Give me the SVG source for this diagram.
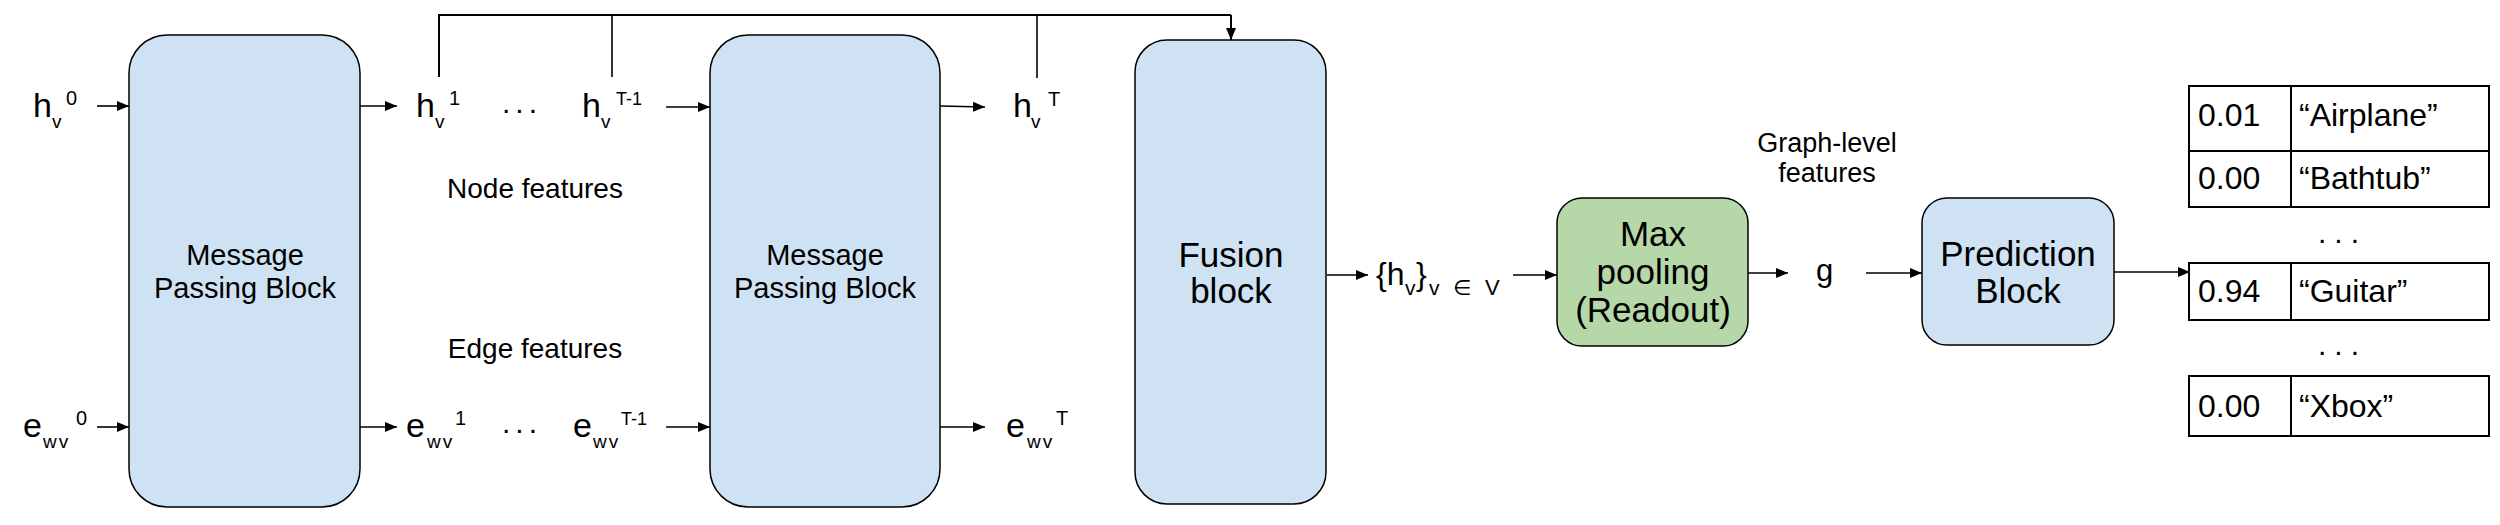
<svg xmlns="http://www.w3.org/2000/svg" width="2500" height="525" viewBox="0 0 2500 525">
<style>
text{font-family:"Liberation Sans","DejaVu Sans",sans-serif;fill:#000}
.blk{fill:#cfe2f3;stroke:#000;stroke-width:1.5}
.grn{fill:#b6d7a8;stroke:#000;stroke-width:1.5}
.cell{fill:#fff;stroke:#000;stroke-width:2}
.ln{fill:none;stroke:#000;stroke-width:1.6}
.ar{fill:none;stroke:#000;stroke-width:1.6;marker-end:url(#ah)}
.main{font-size:34px}
.sub{font-size:19px}
.sup{font-size:20px}
.lbl{font-size:28px;text-anchor:middle}
.mp{font-size:29px;text-anchor:middle}
.bx{font-size:35px;text-anchor:middle}
.tb{font-size:32px}
.tq{font-size:32px}
</style>
<defs>
<marker id="ah" markerUnits="userSpaceOnUse" markerWidth="12" markerHeight="10" refX="12" refY="5" orient="auto">
<path d="M0,0 L12,5 L0,10 z" fill="#000"/>
</marker>
</defs>
<rect width="2500" height="525" fill="#fff"/>

<g id="connectors">
<path class="ln" d="M439,77 V15 H1231" style="stroke-width:2"/>
<path class="ar" d="M1231,15 V40" style="stroke-width:2"/>
<path class="ln" d="M612,15 V77"/>
<path class="ln" d="M1037,15 V78"/>
<path class="ar" d="M97,106 H129"/>
<path class="ar" d="M97,427 H129"/>
<path class="ar" d="M360,106 H397"/>
<path class="ar" d="M360,427 H397"/>
<path class="ar" d="M666,107 H710"/>
<path class="ar" d="M666,427 H710"/>
<path class="ar" d="M940,106 L985,107"/>
<path class="ar" d="M940,427 H985"/>
<path class="ar" d="M1327,275 H1368"/>
<path class="ar" d="M1513,275 H1557"/>
<path class="ar" d="M1748,273 H1788"/>
<path class="ar" d="M1866,273 H1922"/>
<path class="ar" d="M2114,272 H2190"/>
</g>

<g id="mpb1">
<rect class="blk" x="129" y="35" width="231" height="472" rx="38" ry="38"/>
<text class="mp" x="245" y="265">Message</text>
<text class="mp" x="245" y="298">Passing Block</text>
</g>

<g id="mpb2">
<rect class="blk" x="710" y="35" width="230" height="472" rx="38" ry="38"/>
<text class="mp" x="825" y="265">Message</text>
<text class="mp" x="825" y="298">Passing Block</text>
</g>

<g id="fusion">
<rect class="blk" x="1135" y="40" width="191" height="464" rx="32" ry="32"/>
<text class="bx" x="1231" y="267">Fusion</text>
<text class="bx" x="1231" y="303">block</text>
</g>

<g id="maxpool">
<rect class="grn" x="1557" y="198" width="191" height="148" rx="25" ry="25"/>
<text class="bx" x="1653" y="246">Max</text>
<text class="bx" x="1653" y="284">pooling</text>
<text class="bx" x="1653" y="322">(Readout)</text>
</g>

<g id="prediction">
<rect class="blk" x="1922" y="198" width="192" height="147" rx="25" ry="25"/>
<text class="bx" x="2018" y="266">Prediction</text>
<text class="bx" x="2018" y="303">Block</text>
</g>

<g id="labels">
<text class="main" x="33" y="117">h</text><text class="sub" x="52" y="128">v</text><text class="sup" x="66" y="105">0</text>
<text class="main" x="416" y="117">h</text><text class="sub" x="435" y="128">v</text><text class="sup" x="449" y="105">1</text>
<text x="502" y="113" style="font-size:30px;letter-spacing:5px">...</text>
<text class="main" x="582" y="117">h</text><text class="sub" x="601" y="128">v</text><text class="sup" x="616" y="105" style="font-size:18px">T-1</text>
<text class="main" x="1013" y="117">h</text><text class="sub" x="1031" y="128">v</text><text class="sup" x="1048" y="106">T</text>

<text class="main" x="23" y="437">e</text><text class="sub" x="43" y="448" style="letter-spacing:2px">wv</text><text class="sup" x="76" y="425">0</text>
<text class="main" x="406" y="437">e</text><text class="sub" x="427" y="448" style="letter-spacing:2px">wv</text><text class="sup" x="455" y="425">1</text>
<text x="502" y="433" style="font-size:30px;letter-spacing:5px">...</text>
<text class="main" x="573" y="437">e</text><text class="sub" x="593" y="448" style="letter-spacing:2px">wv</text><text class="sup" x="621" y="425" style="font-size:18px">T-1</text>
<text class="main" x="1006" y="437">e</text><text class="sub" x="1027" y="448" style="letter-spacing:2px">wv</text><text class="sup" x="1056" y="425">T</text>

<text class="lbl" x="535" y="198">Node features</text>
<text class="lbl" x="535" y="358">Edge features</text>

<text x="1376" y="285" style="font-size:32px">{h</text><text x="1405" y="295" style="font-size:21px">v</text><text x="1416" y="285" style="font-size:32px">}</text>
<text x="1429" y="295" style="font-size:21px">v</text><text x="1453" y="295" style="font-size:21px">∈</text><text x="1485" y="295" style="font-size:22px">V</text>

<text x="1816" y="281" style="font-size:31px">g</text>
<text class="lbl" x="1827" y="152" style="font-size:27px">Graph-level</text>
<text class="lbl" x="1827" y="182" style="font-size:27px">features</text>
</g>

<g id="table">
<rect class="cell" x="2189" y="86" width="102" height="65"/>
<rect class="cell" x="2291" y="86" width="198" height="65"/>
<rect class="cell" x="2189" y="151" width="102" height="56"/>
<rect class="cell" x="2291" y="151" width="198" height="56"/>
<rect class="cell" x="2189" y="263" width="102" height="57"/>
<rect class="cell" x="2291" y="263" width="198" height="57"/>
<rect class="cell" x="2189" y="376" width="102" height="60"/>
<rect class="cell" x="2291" y="376" width="198" height="60"/>
<text class="tb" x="2198" y="126">0.01</text><text class="tq" x="2299" y="126">“Airplane”</text>
<text class="tb" x="2198" y="189">0.00</text><text class="tq" x="2299" y="189">“Bathtub”</text>
<text x="2318" y="243" style="font-size:30px;letter-spacing:8px">...</text>
<text class="tb" x="2198" y="302">0.94</text><text class="tq" x="2299" y="302">“Guitar”</text>
<text x="2318" y="355" style="font-size:30px;letter-spacing:8px">...</text>
<text class="tb" x="2198" y="417">0.00</text><text class="tq" x="2299" y="417">“Xbox”</text>
</g>
</svg>
